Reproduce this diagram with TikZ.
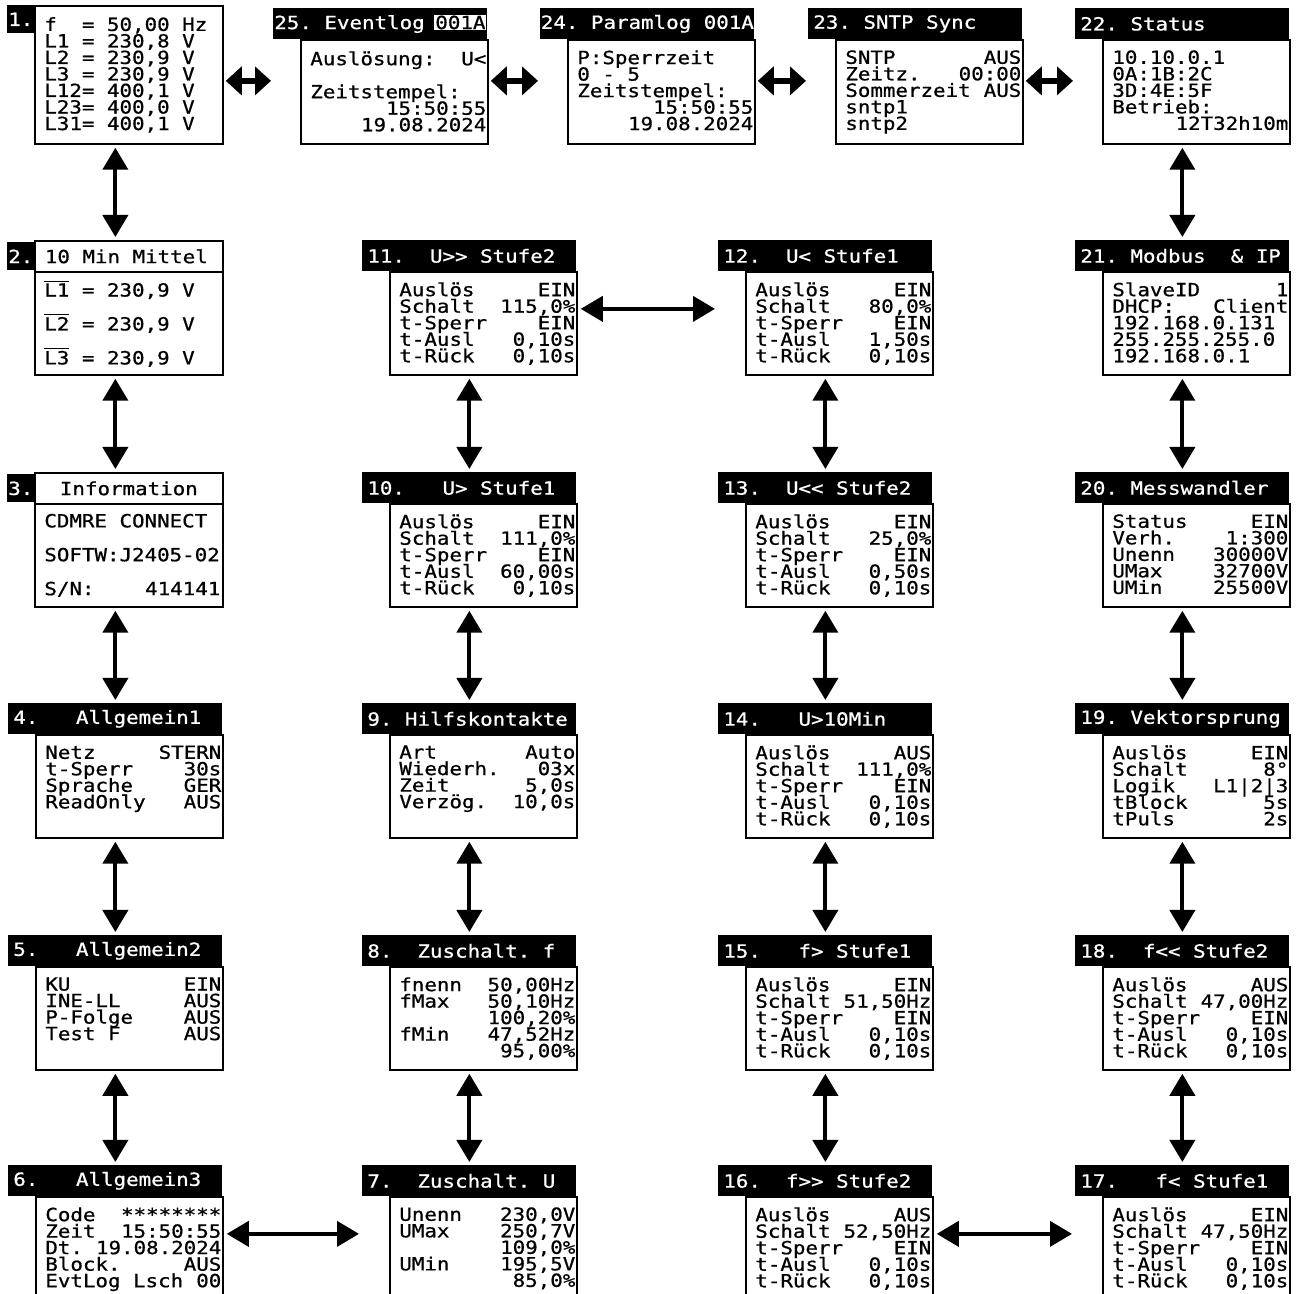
\documentclass[tikz,border=0pt]{standalone}
\usepackage{fontspec}
\setmonofont{DejaVu Sans Mono}[FakeStretch=1.15, FakeBold=0.8]
\usetikzlibrary{positioning,arrows.meta}

\newcommand{\lcdf}{\ttfamily\fontsize{10.3}{9.4}\selectfont\setlength{\lineskiplimit}{-20pt}}
\newcommand{\lcdbig}{\ttfamily\fontsize{10.3}{19.3}\selectfont\setlength{\lineskiplimit}{-20pt}}
\newcommand{\rw}[2]{\makebox[35.2mm]{#1\hfill#2}}
\newcommand{\stufe}[5]{\rw{Auslös}{#1}\\\rw{Schalt}{#2}\\\rw{t-Sperr}{#3}\\\rw{t-Ausl}{#4}\\\rw{t-Rück}{#5}}
\newcommand{\olbar}[1]{$\overline{\hbox{#1}}$}

\begin{document}
\begin{tikzpicture}[
    x=0.2mm, y=-0.2mm,
    lcd/.style={font=\lcdf, execute at begin node={\spaceskip=0pt\xspaceskip=0pt\relax}},
    hdr/.style={lcd, fill=black, text=white, anchor=north west, minimum width=42.8mm, minimum height=6.2mm, text width=40.8mm, inner xsep=1mm, inner ysep=0pt, align=left},
    numblk/.style={lcd, fill=black, text=white, anchor=north west, minimum width=5.4mm, minimum height=5.6mm, inner sep=0pt},
    titlebox/.style={lcd, draw, line width=0.35mm, anchor=north west, minimum width=37.6mm, minimum height=6.2mm, text width=33.6mm, inner xsep=2mm, inner ysep=0pt},
    scr/.style={draw, line width=0.35mm, anchor=north west, minimum width=37.4mm, minimum height=20.6mm, inner sep=0pt},
    txt/.style={lcd, inner sep=0pt, align=left},
    bigtxt/.style={txt, font=\lcdbig},
    dbl/.style={{Triangle[width=5mm,length=4.4mm]}-{Triangle[width=5mm,length=4.4mm]}, line width=0.8mm, shorten <=0.6mm, shorten >=0.6mm},
    sdbl/.style={{Triangle[width=5.6mm,length=3.2mm]}-{Triangle[width=5.6mm,length=3.2mm]}, line width=1.2mm, shorten <=0.4mm, shorten >=0.4mm}
  ]
  \clip (0,0) rectangle (1300,1294);

  \node[numblk] (n1) at (7,5) {1.};
  \node[scr, minimum width=37.6mm, minimum height=27.6mm] (b1) at (34,5) {};
  \node[txt, right=2mm of b1.west] (t1) {f\ \ = 50,00 Hz\\L1 = 230,8 V\\L2 = 230,9 V\\L3 = 230,9 V\\L12= 400,1 V\\L23= 400,0 V\\L31= 400,1 V};

  \node[hdr, inner xsep=0.2mm, text width=42.4mm] (h25) at (273,8) {\mbox{25. Eventlog}\hfill{\fboxsep=0.5pt\colorbox{white}{\color{black}001A}}};
  \node[scr, minimum height=20.8mm] (b25) at (300,39) {};
  \node[txt, below right=2.4mm and 2mm of b25.north west] (t25) {\rw{Auslösung:}{U<}\\\mbox{}\\Zeitstempel:\\\rw{}{15:50:55}\\\rw{}{19.08.2024}};

  \node[hdr, inner xsep=0.1mm, text width=42.6mm] (h24) at (540,8) {\mbox{24. Paramlog 001A}};
  \node[scr, minimum height=20.8mm] (b24) at (567,39) {};
  \node[txt, below right=2.2mm and 2mm of b24.north west] (t24) {P:Sperrzeit\\0 - 5\\Zeitstempel:\\\rw{}{15:50:55}\\\rw{}{19.08.2024}};

  \node[hdr] (h23) at (808,8) {23. SNTP Sync};
  \node[scr, minimum height=20.8mm] (b23) at (835,39) {};
  \node[txt, below right=2.2mm and 2mm of b23.north west] (t23) {\rw{SNTP}{AUS}\\\rw{Zeitz.}{00:00}\\\rw{Sommerzeit}{AUS}\\sntp1\\sntp2};

  \node[hdr] (h22) at (1075,8) {22. Status};
  \node[scr, minimum height=20.8mm] (b22) at (1102,39) {};
  \node[txt, below right=2.2mm and 2mm of b22.north west] (t22) {10.10.0.1\\0A:1B:2C\\3D:4E:5F\\Betrieb:\\\rw{}{12T32h10m}};

  \node[numblk] (n2) at (7,242) {2.};
  \node[titlebox, align=left] (h2) at (34,240) {10 Min Mittel};
  \node[scr, minimum width=37.6mm] (b2) at (34,271) {};
  \node[bigtxt, right=2mm of b2.west] (t2) {\olbar{L1} = 230,9 V\\\olbar{L2} = 230,9 V\\\olbar{L3} = 230,9 V};

  \node[numblk] (n3) at (7,474) {3.};
  \node[titlebox, align=center] (h3) at (34,472) {Information};
  \node[scr, minimum width=37.6mm] (b3) at (34,503) {};
  \node[bigtxt, right=2mm of b3.west] (t3) {CDMRE CONNECT\\SOFTW:J2405-02\\\rw{S/N:}{414141}};

  \node[hdr] (h4) at (8,703) {4.\ \ \ Allgemein1};
  \node[scr] (b4) at (35,734) {};
  \node[txt, below right=2.2mm and 2mm of b4.north west] (t4) {\rw{Netz}{STERN}\\\rw{t-Sperr}{30s}\\\rw{Sprache}{GER}\\\rw{ReadOnly}{AUS}};

  \node[hdr] (h5) at (8,935) {5.\ \ \ Allgemein2};
  \node[scr] (b5) at (35,966) {};
  \node[txt, below right=2.2mm and 2mm of b5.north west] (t5) {\rw{KU}{EIN}\\\rw{INE-LL}{AUS}\\\rw{P-Folge}{AUS}\\\rw{Test F}{AUS}};

  \node[hdr] (h6) at (8,1165) {6.\ \ \ Allgemein3};
  \node[scr] (b6) at (35,1196) {};
  \node[txt, below right=2.2mm and 2mm of b6.north west] (t6) {\rw{Code}{********}\\\rw{Zeit}{15:50:55}\\\rw{Dt.}{19.08.2024}\\\rw{Block.}{AUS}\\\rw{EvtLog Lsch}{00}};

  \node[hdr] (h11) at (362,240) {11.\ \ U>> Stufe2};
  \node[scr] (b11) at (389,271) {};
  \node[txt, below right=2.2mm and 2mm of b11.north west] (t11) {\stufe{EIN}{115,0\%}{EIN}{0,10s}{0,10s}};

  \node[hdr] (h10) at (362,472) {10.\ \ \ U> Stufe1};
  \node[scr] (b10) at (389,503) {};
  \node[txt, below right=2.2mm and 2mm of b10.north west] (t10) {\stufe{EIN}{111,0\%}{EIN}{60,00s}{0,10s}};

  \node[hdr] (h9) at (362,703) {9. Hilfskontakte};
  \node[scr] (b9) at (389,734) {};
  \node[txt, below right=2.2mm and 2mm of b9.north west] (t9) {\rw{Art}{Auto}\\\rw{Wiederh.}{03x}\\\rw{Zeit}{5,0s}\\\rw{Verzög.}{10,0s}};

  \node[hdr] (h8) at (362,935) {8.\ \ Zuschalt. f};
  \node[scr] (b8) at (389,966) {};
  \node[txt, below right=2.2mm and 2mm of b8.north west] (t8) {\rw{fnenn}{50,00Hz}\\\rw{fMax}{50,10Hz}\\\rw{}{100,20\%}\\\rw{fMin}{47,52Hz}\\\rw{}{95,00\%}};

  \node[hdr] (h7) at (362,1165) {7.\ \ Zuschalt. U};
  \node[scr] (b7) at (389,1196) {};
  \node[txt, below right=2.2mm and 2mm of b7.north west] (t7) {\rw{Unenn}{230,0V}\\\rw{UMax}{250,7V}\\\rw{}{109,0\%}\\\rw{UMin}{195,5V}\\\rw{}{85,0\%}};

  \node[hdr] (h12) at (718,240) {12.\ \ U< Stufe1};
  \node[scr] (b12) at (745,271) {};
  \node[txt, below right=2.2mm and 2mm of b12.north west] (t12) {\stufe{EIN}{80,0\%}{EIN}{1,50s}{0,10s}};

  \node[hdr] (h13) at (718,472) {13.\ \ U<< Stufe2};
  \node[scr] (b13) at (745,503) {};
  \node[txt, below right=2.2mm and 2mm of b13.north west] (t13) {\stufe{EIN}{25,0\%}{EIN}{0,50s}{0,10s}};

  \node[hdr] (h14) at (718,703) {14.\ \ \ U>10Min};
  \node[scr] (b14) at (745,734) {};
  \node[txt, below right=2.2mm and 2mm of b14.north west] (t14) {\stufe{AUS}{111,0\%}{EIN}{0,10s}{0,10s}};

  \node[hdr] (h15) at (718,935) {15.\ \ \ f> Stufe1};
  \node[scr] (b15) at (745,966) {};
  \node[txt, below right=2.2mm and 2mm of b15.north west] (t15) {\stufe{EIN}{51,50Hz}{EIN}{0,10s}{0,10s}};

  \node[hdr] (h16) at (718,1165) {16.\ \ f>> Stufe2};
  \node[scr] (b16) at (745,1196) {};
  \node[txt, below right=2.2mm and 2mm of b16.north west] (t16) {\stufe{AUS}{52,50Hz}{EIN}{0,10s}{0,10s}};

  \node[hdr] (h21) at (1075,240) {21. Modbus\ \ \& IP};
  \node[scr] (b21) at (1102,271) {};
  \node[txt, below right=2.2mm and 2mm of b21.north west] (t21) {\rw{SlaveID}{1}\\\rw{DHCP:}{Client}\\192.168.0.131\\255.255.255.0\\192.168.0.1};

  \node[hdr] (h20) at (1075,472) {20. Messwandler};
  \node[scr] (b20) at (1102,503) {};
  \node[txt, below right=2.2mm and 2mm of b20.north west] (t20) {\rw{Status}{EIN}\\\rw{Verh.}{1:300}\\\rw{Unenn}{30000V}\\\rw{UMax}{32700V}\\\rw{UMin}{25500V}};

  \node[hdr] (h19) at (1075,703) {19. Vektorsprung};
  \node[scr] (b19) at (1102,734) {};
  \node[txt, below right=2.2mm and 2mm of b19.north west] (t19) {\rw{Auslös}{EIN}\\\rw{Schalt}{8°}\\\rw{Logik}{L1|2|3}\\\rw{tBlock}{5s}\\\rw{tPuls}{2s}};

  \node[hdr] (h18) at (1075,935) {18.\ \ f<< Stufe2};
  \node[scr] (b18) at (1102,966) {};
  \node[txt, below right=2.2mm and 2mm of b18.north west] (t18) {\stufe{AUS}{47,00Hz}{EIN}{0,10s}{0,10s}};

  \node[hdr] (h17) at (1075,1165) {17.\ \ \ f< Stufe1};
  \node[scr] (b17) at (1102,1196) {};
  \node[txt, below right=2.2mm and 2mm of b17.north west] (t17) {\stufe{EIN}{47,50Hz}{EIN}{0,10s}{0,10s}};

  \coordinate (m0) at ([yshift=-1.2mm]b1.east);
  \draw[sdbl] (m0) -- (m0 -| h25.west);
  \draw[sdbl] (b25.east |- m0) -- (h24.west |- m0);
  \draw[sdbl] (b24.east |- m0) -- (h23.west |- m0);
  \draw[sdbl] (b23.east |- m0) -- (h22.west |- m0);

  \draw[dbl] (b1.south -| h4.south) -- (h2.north -| h4.south);
  \draw[dbl] (b2.south -| h4.south) -- (h3.north -| h4.south);
  \draw[dbl] (b3.south -| h4.south) -- (h4.north);
  \draw[dbl] (b4.south -| h4.south) -- (h5.north);
  \draw[dbl] (b5.south -| h5.south) -- (h6.north);

  \draw[dbl] (b11.south -| h11.south) -- (h10.north);
  \draw[dbl] (b10.south -| h10.south) -- (h9.north);
  \draw[dbl] (b9.south -| h9.south) -- (h8.north);
  \draw[dbl] (b8.south -| h8.south) -- (h7.north);

  \draw[dbl] (b12.south -| h12.south) -- (h13.north);
  \draw[dbl] (b13.south -| h13.south) -- (h14.north);
  \draw[dbl] (b14.south -| h14.south) -- (h15.north);
  \draw[dbl] (b15.south -| h15.south) -- (h16.north);

  \draw[dbl] (b22.south -| h22.south) -- (h21.north);
  \draw[dbl] (b21.south -| h21.south) -- (h20.north);
  \draw[dbl] (b20.south -| h20.south) -- (h19.north);
  \draw[dbl] (b19.south -| h19.south) -- (h18.north);
  \draw[dbl] (b18.south -| h18.south) -- (h17.north);

  \coordinate (m11) at ([yshift=2.9mm]b11.east);
  \draw[dbl] (m11) -- (m11 -| h12.west);
  \coordinate (m6) at ([yshift=2.9mm]b6.east);
  \draw[dbl] (m6) -- (m6 -| h7.west);
  \coordinate (m16) at ([yshift=2.9mm]b16.east);
  \draw[dbl] (m16) -- (m16 -| h17.west);
\end{tikzpicture}
\end{document}
